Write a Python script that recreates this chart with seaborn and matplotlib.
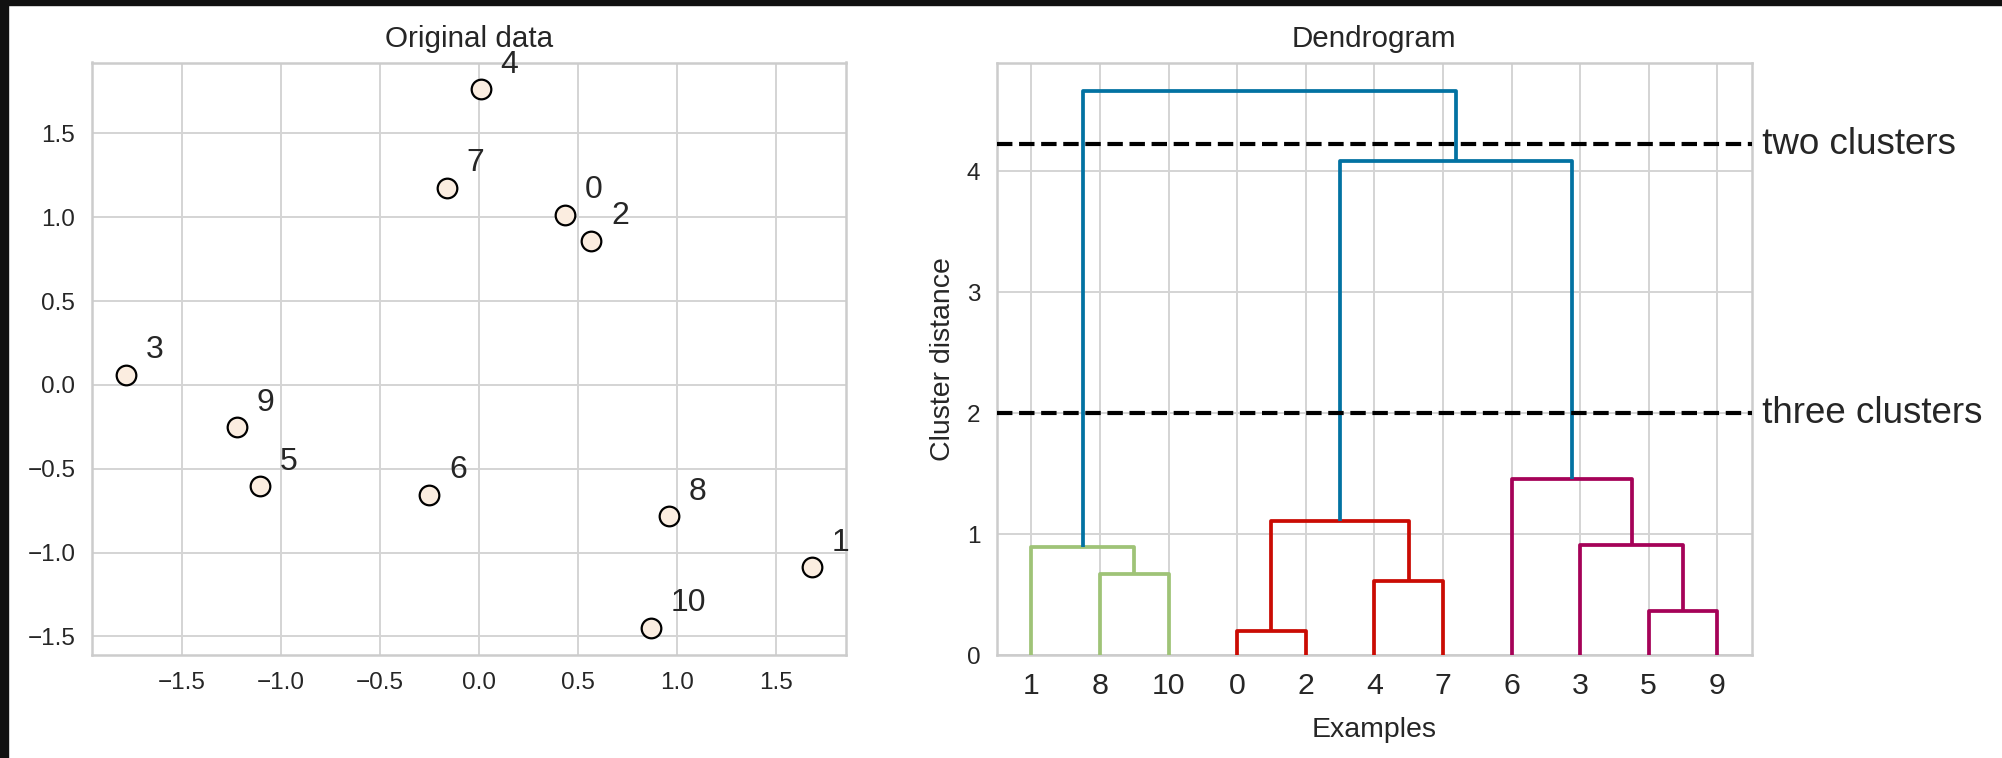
import numpy as np
import pandas as pd
import matplotlib
matplotlib.use("Agg")
import matplotlib.pyplot as plt
from matplotlib.patches import Rectangle
from matplotlib.ticker import MultipleLocator
import seaborn as sns

# ---------------- data ----------------
point_ids = list(range(11))
point_x = [0.435, 1.680, 0.566, -1.781, 0.009, -1.108, -0.252, -0.162, 0.958, -1.221, 0.868]
point_y = [1.016, -1.088, 0.857, 0.061, 1.762, -0.605, -0.655, 1.175, -0.784, -0.253, -1.450]

# linkage (scipy style: new cluster ids start at n)
merge_left = [0, 5, 4, 8, 1, 3, 11, 6, 17, 15]
merge_right = [2, 9, 7, 10, 14, 12, 13, 16, 18, 19]
merge_height = [0.201, 0.366, 0.612, 0.669, 0.895, 0.909, 1.110, 1.457, 4.085, 4.664]

cut_heights = [4.22, 2.0]
cut_labels = ["two clusters", "three clusters"]

link_palette = ["#9fc377", "#ca0b03", "#a50258"]
above_color = "#0272a2"
point_face = "#fbede0"

# ---------------- style ----------------
sns.set_style("whitegrid", {"grid.color": "#d4d4d4", "axes.edgecolor": "#cccccc"})
plt.rcParams["font.family"] = ["Liberation Sans", "DejaVu Sans"]
plt.rcParams["text.color"] = "#262626"
plt.rcParams["axes.labelcolor"] = "#262626"
plt.rcParams["xtick.color"] = "#262626"
plt.rcParams["ytick.color"] = "#262626"

W, H = 2002, 758
fig = plt.figure(figsize=(W / 100, H / 100), dpi=100)
fig.patch.set_facecolor("white")

ax1 = fig.add_axes([92 / W, (H - 655) / H, (846 - 92) / W, (655 - 62.5) / H])
ax2 = fig.add_axes([997 / W, (H - 655) / H, (1751.6 - 997) / W, (655 - 62.5) / H])

# ---------------- left: original data ----------------
df = pd.DataFrame({"x": point_x, "y": point_y, "id": point_ids})
sns.scatterplot(data=df, x="x", y="y", ax=ax1, s=200, color=point_face,
                edgecolor="black", linewidth=1.6, zorder=3, legend=False)
for xi, yi, lab in zip(point_x, point_y, point_ids):
    ax1.text(xi + 0.1, yi + 0.1, "%d" % lab, fontsize=23, color="#262626")
ax1.set_xlabel("")
ax1.set_ylabel("")
ax1.set_title("Original data", fontsize=21.3, pad=11)
ax1.xaxis.set_major_locator(MultipleLocator(0.5))
ax1.yaxis.set_major_locator(MultipleLocator(0.5))
ax1.tick_params(axis="both", labelsize=17.5, pad=12, length=0)

# ---------------- right: dendrogram ----------------
n = len(point_ids)


def leaves(node):
    if node < n:
        return [node]
    i = node - n
    return leaves(merge_left[i]) + leaves(merge_right[i])


root = n + len(merge_height) - 1
order = leaves(root)
xpos = {leaf: 5 + 10 * k for k, leaf in enumerate(order)}
ypos = {leaf: 0.0 for leaf in range(n)}
for i in range(len(merge_height)):
    node = n + i
    xpos[node] = (xpos[merge_left[i]] + xpos[merge_right[i]]) / 2.0
    ypos[node] = merge_height[i]

threshold = 0.7 * max(merge_height)
link_color = {}
counter = [0]


def color_tree(node, inherited=None):
    if node < n:
        return
    i = node - n
    if inherited is None and merge_height[i] < threshold:
        inherited = link_palette[counter[0] % len(link_palette)]
        counter[0] += 1
    link_color[node] = inherited if inherited is not None else above_color
    color_tree(merge_left[i], inherited)
    color_tree(merge_right[i], inherited)


color_tree(root)

for i in range(len(merge_height)):
    node = n + i
    a, b = merge_left[i], merge_right[i]
    xs = [xpos[a], xpos[a], xpos[b], xpos[b]]
    ys = [ypos[a], merge_height[i], merge_height[i], ypos[b]]
    ax2.plot(xs, ys, color=link_color[node], lw=2.7, solid_capstyle="butt", zorder=3)

ax2.set_xlim(0, 10 * n)
ax2.set_ylim(0, 1.05 * max(merge_height))
ax2.set_xticks([5 + 10 * k for k in range(n)])
ax2.set_xticklabels([str(l) for l in order])
ax2.yaxis.set_major_locator(MultipleLocator(1))
ax2.tick_params(axis="y", labelsize=17.5, pad=12, length=0)
ax2.tick_params(axis="x", labelsize=21.8, pad=12, length=0)

bounds = ax2.get_xbound()
for h, lab in zip(cut_heights, cut_labels):
    ax2.plot(bounds, [h, h], "--", color="black", lw=3.0, zorder=4)
    ax2.text(bounds[1], h, " " + lab, va="center", fontsize=26.5, color="#262626")

ax2.set_title("Dendrogram", fontsize=21.3, pad=11)
ax2.set_xlabel("Examples", fontsize=20.5, labelpad=12.5)
ax2.set_ylabel("Cluster distance", fontsize=20.5, labelpad=8)

for ax in (ax1, ax2):
    for sp in ax.spines.values():
        sp.set_linewidth(1.8)
        sp.set_color("#cccccc")
    ax.grid(True, lw=1.4, color="#d4d4d4")

# dark frame of the screenshot
fig.add_artist(Rectangle((0, 1 - 5 / H), 1, 5 / H, transform=fig.transFigure,
                         color="#111111", zorder=10))
fig.add_artist(Rectangle((0, 0), 8 / W, 1, transform=fig.transFigure,
                         color="#111111", zorder=10))

fig.savefig("out.png", dpi=100, facecolor="white")
